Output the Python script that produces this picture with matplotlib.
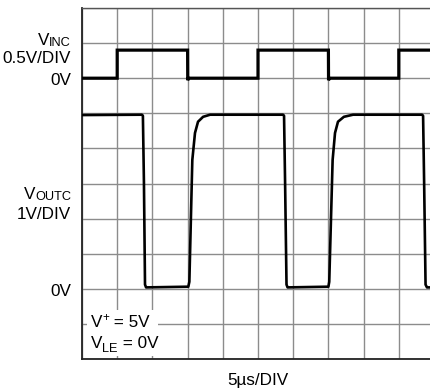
import matplotlib
matplotlib.use("Agg")
import matplotlib.pyplot as plt
from matplotlib.patches import Rectangle

plt.rcParams["font.family"] = ["Liberation Sans", "DejaVu Sans"]

# Input comparator drive (µs, V) at 0.5V/DIV
t_in = [0, 5, 5, 15, 15.02, 15.1, 25, 25, 35, 35.02, 35.1, 45, 45, 50]
v_in = [0, 0, 0.4, 0.4, -0.03, 0, 0, 0.4, 0.4, -0.03, 0, 0, 0.4, 0.4]

# Output response (µs, V) at 1V/DIV
t_out = [0, 8.5, 8.65, 8.8, 8.95, 9.1, 15.1, 15.25, 15.67, 16.05, 16.48, 17.2, 18.2,
         28.55, 28.7, 28.85, 29.05, 29.2, 35.0, 35.12, 35.6, 35.94, 36.36, 37.2, 38.5,
         48.3, 48.45, 48.6, 48.8, 49.0, 50]
v_out = [4.95, 4.96, 4.93, 3.0, 0.12, 0.04, 0.06, 0.2, 3.67, 4.44, 4.76, 4.9, 4.96,
         4.96, 4.93, 3.0, 0.12, 0.04, 0.06, 0.2, 3.67, 4.44, 4.76, 4.9, 4.96,
         4.96, 4.93, 3.0, 0.12, 0.04, 0.04]

in_scale, in_zero = 0.5, 8     # V/DIV, division of the 0V line
out_scale, out_zero = 1.0, 2
us_per_div = 5

W, H = 431, 390
fig = plt.figure(figsize=(W / 100, H / 100), dpi=100)
ax = fig.add_axes([82 / W, (H - 359) / H, 352 / W, 351 / H])

ax.plot([t / us_per_div for t in t_in], [in_zero + v / in_scale for v in v_in],
        color="black", lw=2.3, solid_joinstyle="miter", zorder=4)
ax.plot([t / us_per_div for t in t_out], [out_zero + v / out_scale for v in v_out],
        color="black", lw=1.9, solid_joinstyle="round", zorder=4)

ax.set_xlim(0, 10)
ax.set_ylim(0, 10)
ax.set_xticks(range(11))
ax.set_yticks(range(11))
ax.grid(True, color="#8c8c8c", lw=1.0)
ax.tick_params(length=0, labelbottom=False, labelleft=False)
ax.spines["right"].set_visible(False)
for side in ("left", "bottom"):
    ax.spines[side].set_color("#222222")
    ax.spines[side].set_linewidth(1.3)
ax.spines["top"].set_color("#555555")
ax.spines["top"].set_linewidth(1.0)

ax.add_patch(Rectangle((0.14, 0.08), 2.02, 1.33, facecolor="white", edgecolor="none", zorder=3))

fs = 12.3
sfs = fs * 0.75
renderer = fig.canvas.get_renderer()

def fy(py):
    return 1 - py / H

def width_px(t):
    return t.get_window_extent(renderer).width

def label_right(xr, base, main, sub, drop):
    s = fig.text(xr / W, fy(base + drop), sub, fontsize=sfs, ha="right", va="baseline")
    fig.text((xr - width_px(s)) / W, fy(base), main, fontsize=fs, ha="right", va="baseline")

def label_left(xl, base, main, small, shift, rest, small_size):
    m = fig.text(xl / W, fy(base), main, fontsize=fs, ha="left", va="baseline", zorder=5)
    x = xl + width_px(m)
    s = fig.text(x / W, fy(base + shift), small, fontsize=small_size, ha="left", va="baseline", zorder=5)
    x += width_px(s)
    fig.text(x / W, fy(base), rest, fontsize=fs, ha="left", va="baseline", zorder=5)

lx = 71
label_right(lx, 45, "V", "INC", 1)
fig.text(lx / W, fy(63), "0.5V/DIV", fontsize=fs, ha="right", va="baseline")
fig.text(lx / W, fy(85), "0V", fontsize=fs, ha="right", va="baseline")
label_right(lx, 199, "V", "OUTC", 1)
fig.text(lx / W, fy(219), "1V/DIV", fontsize=fs, ha="right", va="baseline")
fig.text(lx / W, fy(296), "0V", fontsize=fs, ha="right", va="baseline")
fig.text(258 / W, fy(385), "5µs/DIV", fontsize=fs, ha="center", va="baseline")

label_left(91, 327, "V", "+", -6, " = 5V", fs * 0.68)
label_left(91, 348, "V", "LE", 4, " = 0V", sfs)

fig.savefig("out.png", dpi=100)
